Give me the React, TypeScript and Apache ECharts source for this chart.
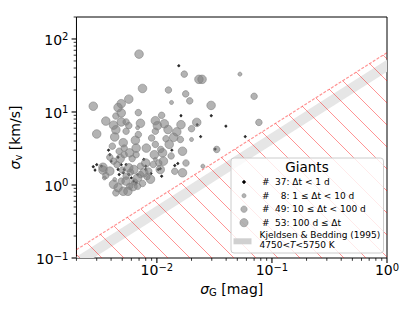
import React, { useEffect, useRef } from 'react';
import * as echarts from 'echarts';

const FONT = 'DejaVu Sans';

// axis ranges
const X_MIN = 0.002;
const X_MAX = 1;
const Y_MIN = 0.1;
const Y_MAX = 200;

const xMajorTicks = [0.01, 0.1, 1];
const yMajorTicks = [0.1, 1, 10, 100];
const xDecades = [0.001, 0.01, 0.1];
const yDecades = [0.1, 1, 10, 100];
const minorMultipliers = [2, 3, 4, 5, 6, 7, 8, 9];

// legend texts
const legendTitle = 'Giants';
const groupLabels = ['37: \u0394t < 1 d', '8: 1 \u2264 \u0394t < 10 d', '49: 10 \u2264 \u0394t < 100 d', '53: 100 d \u2264 \u0394t'];
const bandLabel1 = 'Kjeldsen & Bedding (1995)';
const bandLabel2 = '4750<{t|T}<5750 K';

// sigma_v = coef * sigma_G
const limitCoef = 65;
const kbBandCoef = [35.5, 52];

// Δt < 1 d
const ptsShort: number[][] = [
  [0.0155, 43], [0.0162, 8.9], [0.0297, 8.9], [0.0398, 6.4], [0.0224, 6.7], [0.0586, 4.6],
  [0.024, 4.6], [0.0135, 3.0], [0.0321, 3.1], [0.0143, 1.85], [0.0152, 1.97], [0.0107, 1.67],
  [0.011, 1.32], [0.0028, 1.78], [0.0029, 1.6], [0.003, 1.9], [0.0033, 1.81], [0.004, 2.12],
  [0.0038, 3.0], [0.0039, 2.6], [0.0046, 1.63], [0.0047, 1.39], [0.0051, 1.47], [0.0052, 1.63],
  [0.0054, 1.9], [0.0057, 1.39], [0.006, 1.25], [0.0063, 1.13], [0.0066, 1.07], [0.0068, 1.39],
  [0.008, 1.81], [0.008, 1.63], [0.0089, 1.44], [0.0103, 1.63], [0.0077, 2.24], [0.0046, 2.4],
  [0.0049, 1.9],
];

// 1 ≤ Δt < 10 d
const ptsDays: number[][] = [
  [0.0527, 33], [0.0134, 13.5], [0.0251, 1.81], [0.0043, 1.19], [0.0068, 6.1], [0.0097, 2.24],
  [0.0035, 1.25], [0.02, 4.2],
];

// 10 ≤ Δt < 100 d
const ptsMid: number[][] = [
  [0.0173, 33], [0.0126, 20], [0.0178, 17.7], [0.0193, 14.2], [0.0069, 9.8], [0.0044, 8.8],
  [0.0054, 7.3], [0.0057, 6.5], [0.0054, 5.45], [0.07, 16.4], [0.077, 7.2], [0.016, 4.2],
  [0.0052, 3.2], [0.0097, 3.6], [0.0047, 2.9], [0.0052, 2.6], [0.0069, 4.9], [0.0097, 5.45],
  [0.0108, 3.07], [0.0179, 2.0], [0.0143, 1.54], [0.0331, 3.07], [0.0042, 2.12], [0.0054, 1.32],
  [0.0072, 1.81], [0.0093, 1.91], [0.0072, 1.39], [0.0044, 0.78], [0.0058, 0.96], [0.0049, 1.13],
  [0.0068, 0.96], [0.0085, 1.55], [0.0061, 2.3], [0.0039, 2.4], [0.0045, 1.9], [0.0059, 1.5],
  [0.0064, 1.1], [0.0075, 1.05], [0.005, 1.6], [0.0082, 1.3], [0.0036, 1.35], [0.0104, 2.0],
  [0.012, 4.3], [0.0133, 2.5], [0.02, 5.9], [0.011, 9.0], [0.0041, 3.4], [0.0066, 2.6],
  [0.009, 4.4],
];

// 100 d ≤ Δt
const ptsLong: number[][] = [
  [0.007, 62], [0.0075, 21], [0.0232, 28], [0.0247, 28], [0.0057, 15], [0.0049, 13],
  [0.0046, 11.5], [0.0028, 12], [0.0296, 12.3], [0.0049, 9.7], [0.0036, 7.5], [0.0049, 7.3],
  [0.0072, 7.0], [0.0042, 6.6], [0.0044, 5.7], [0.0097, 7.6], [0.0101, 6.5], [0.0116, 6.9],
  [0.0125, 5.75], [0.0149, 5.35], [0.0162, 6.7], [0.0222, 7.2], [0.003, 5.0], [0.0043, 4.55],
  [0.0051, 3.8], [0.0066, 3.2], [0.0081, 3.2], [0.0095, 2.6], [0.0112, 2.76], [0.0058, 2.76],
  [0.0167, 2.9], [0.0114, 2.12], [0.0167, 1.47], [0.0034, 1.6], [0.0039, 1.55], [0.0057, 1.72],
  [0.0063, 1.63], [0.008, 2.0], [0.0107, 1.63], [0.0068, 1.25], [0.0042, 1.02], [0.0046, 0.92],
  [0.0051, 0.82], [0.0056, 0.82], [0.0054, 1.13], [0.0077, 1.47], [0.0034, 1.75], [0.0065, 4.1],
  [0.014, 4.5], [0.0088, 1.2], [0.0062, 0.95], [0.0048, 2.3], [0.0128, 3.6],
];

const GRAY = 'rgba(128,128,128,0.6)';
const HATCH = 'rgba(255,0,0,0.42)';

type P = number[];

function clipHalf(poly: P[], inside: (p: P) => boolean, inter: (a: P, b: P) => P): P[] {
  const out: P[] = [];
  for (let i = 0; i < poly.length; i++) {
    const cur = poly[i];
    const prev = poly[(i + poly.length - 1) % poly.length];
    const ci = inside(cur);
    const pi = inside(prev);
    if (ci) {
      if (!pi) out.push(inter(prev, cur));
      out.push(cur);
    } else if (pi) out.push(inter(prev, cur));
  }
  return out;
}

function clipRect(poly: P[], L: number, T: number, R: number, B: number): P[] {
  const ix = (x0: number) => (a: P, b: P) => {
    const t = (x0 - a[0]) / (b[0] - a[0]);
    return [x0, a[1] + t * (b[1] - a[1])];
  };
  const iy = (y0: number) => (a: P, b: P) => {
    const t = (y0 - a[1]) / (b[1] - a[1]);
    return [a[0] + t * (b[0] - a[0]), y0];
  };
  let p = clipHalf(poly, (q) => q[0] >= L, ix(L));
  p = clipHalf(p, (q) => q[0] <= R, ix(R));
  p = clipHalf(p, (q) => q[1] >= T, iy(T));
  p = clipHalf(p, (q) => q[1] <= B, iy(B));
  return p;
}

function clipSeg(p0: P, p1: P, poly: P[]): P[] | null {
  if (poly.length < 3) return null;
  let cx = 0, cy = 0;
  poly.forEach((q) => { cx += q[0]; cy += q[1]; });
  cx /= poly.length; cy /= poly.length;
  const d = [p1[0] - p0[0], p1[1] - p0[1]];
  let tE = 0, tL = 1;
  for (let i = 0; i < poly.length; i++) {
    const a = poly[i], b = poly[(i + 1) % poly.length];
    let nx = -(b[1] - a[1]), ny = b[0] - a[0];
    if (Math.abs(nx) + Math.abs(ny) < 1e-9) continue;
    if (nx * (cx - a[0]) + ny * (cy - a[1]) < 0) { nx = -nx; ny = -ny; }
    const num = nx * (p0[0] - a[0]) + ny * (p0[1] - a[1]);
    const den = nx * d[0] + ny * d[1];
    if (Math.abs(den) < 1e-12) { if (num < 0) return null; continue; }
    const t = -num / den;
    if (den > 0) tE = Math.max(tE, t); else tL = Math.min(tL, t);
    if (tE > tL) return null;
  }
  return [[p0[0] + tE * d[0], p0[1] + tE * d[1]], [p0[0] + tL * d[0], p0[1] + tL * d[1]]];
}

const fmtPow = (v: number) => {
  const l = Math.log10(v);
  const e = Math.round(l);
  if (Math.abs(l - e) > 1e-6) return '';
  return `{b|10}{s|${e < 0 ? '\u2212' + -e : e}}`;
};

const tickRich = {
  b: { fontSize: 14, fontFamily: FONT, color: '#000', lineHeight: 14, padding: [2, 0, 0, 0] },
  s: { fontSize: 10, fontFamily: FONT, color: '#000', lineHeight: 10, verticalAlign: 'top' },
};

const nameRich = {
  i: { fontSize: 14, fontFamily: FONT, fontStyle: 'italic', color: '#000', lineHeight: 14, padding: [0, 0, 3, 0] },
  n: { fontSize: 14, fontFamily: FONT, color: '#000', lineHeight: 14, padding: [0, 0, 3, 0] },
  sub: { fontSize: 10, fontFamily: FONT, color: '#000', lineHeight: 10, verticalAlign: 'bottom' },
};

function decorRender(params: any, api: any) {
  const cs = params.coordSys;
  const L = cs.x, T = cs.y, R = cs.x + cs.width, B = cs.y + cs.height;
  const line = (k: number) => [api.coord([X_MIN, k * X_MIN]), api.coord([X_MAX, k * X_MAX])];
  const [t0, t1] = line(kbBandCoef[1]);
  const [b0, b1] = line(kbBandCoef[0]);
  const band = clipRect([t0, t1, b1, b0], L, T, R, B);
  const [la, lb] = line(limitCoef);
  const region = clipRect([la, lb, [lb[0], B + 50], [la[0], B + 50]], L, T, R, B);
  const children: any[] = [];
  children.push({ type: 'polygon', shape: { points: band }, style: { fill: '#e6e6e6', stroke: 'none' } });
  const step = 22;
  const phase = 2;
  for (let c = phase - step * 50; c < phase + step * 30; c += step) {
    const seg = clipSeg([L - 400, L - 400 + c], [R + 400, R + 400 + c], region);
    if (seg && Math.hypot(seg[1][0] - seg[0][0], seg[1][1] - seg[0][1]) > 0.5) {
      children.push({
        type: 'polyline',
        shape: { points: [[seg[0][0], seg[0][1]], [seg[1][0], seg[1][1]]] },
        style: { stroke: HATCH, lineWidth: 1, fill: null },
      });
    }
  }
  children.push({
    type: 'polyline',
    shape: { points: [la, lb] },
    style: { stroke: HATCH, lineWidth: 1.2, lineDash: [3, 1.5], fill: null },
  });
  // axis ticks (major + minor), outward
  const tick = (x1: number, y1: number, x2: number, y2: number, w: number) =>
    children.push({ type: 'line', shape: { x1, y1, x2, y2 }, style: { stroke: '#000', lineWidth: w } });
  xMajorTicks.forEach((v) => { const p = api.coord([v, Y_MIN]); tick(p[0], B, p[0], B + 4.9, 1.1); });
  yMajorTicks.forEach((v) => { const p = api.coord([X_MIN, v]); tick(L, p[1], L - 4.9, p[1], 1.1); });
  xDecades.forEach((d) => minorMultipliers.forEach((m) => {
    const v = d * m;
    if (v < X_MIN * 0.999 || v > X_MAX * 1.001) return;
    const p = api.coord([v, Y_MIN]);
    tick(p[0], B, p[0], B + 2.8, 0.8);
  }));
  yDecades.forEach((d) => minorMultipliers.forEach((m) => {
    const v = d * m;
    if (v < Y_MIN * 0.999 || v > Y_MAX * 1.001) return;
    const p = api.coord([X_MIN, v]);
    tick(L, p[1], L - 2.8, p[1], 0.8);
  }));
  return { type: 'group', children };
}

function legendGraphic() {
  const els: any[] = [];
  els.push({
    type: 'rect', z: 100,
    shape: { x: 231, y: 158, width: 152.5, height: 95, r: 3 },
    style: { fill: 'rgba(255,255,255,0.8)', stroke: '#cccccc', lineWidth: 1 },
  });
  els.push({
    type: 'text', z: 101,
    style: { text: legendTitle, x: 307, y: 167, fontSize: 13.5, fontFamily: FONT, fill: '#000', align: 'center', verticalAlign: 'middle' },
  });
  const rowsY = [182, 195.7, 209.2, 222.7];
  const markers = [
    { r: 1.4, fill: '#000', stroke: '#000' },
    { r: 2.1, fill: GRAY, stroke: GRAY },
    { r: 3.2, fill: GRAY, stroke: GRAY },
    { r: 4.1, fill: GRAY, stroke: GRAY },
  ];
  const textX = [275, 280.7, 275, 275];
  rowsY.forEach((y, i) => {
    els.push({
      type: 'circle', z: 101,
      shape: { cx: 244, cy: y, r: markers[i].r },
      style: { fill: markers[i].fill, stroke: markers[i].stroke, lineWidth: 0.8 },
    });
    els.push({
      type: 'text', z: 101,
      style: { text: '#', x: 262, y, fontSize: 9, fontFamily: FONT, fill: '#000', align: 'left', verticalAlign: 'middle' },
    });
    els.push({
      type: 'text', z: 101,
      style: { text: groupLabels[i], x: textX[i], y, fontSize: 9, fontFamily: FONT, fill: '#000', align: 'left', verticalAlign: 'middle' },
    });
  });
  els.push({
    type: 'rect', z: 101,
    shape: { x: 233.5, y: 238.3, width: 18, height: 6 },
    style: { fill: '#d0d0d0', stroke: 'none' },
  });
  els.push({
    type: 'text', z: 101,
    style: { text: bandLabel1, x: 259.5, y: 235.2, fontSize: 9, fontFamily: FONT, fill: '#000', align: 'left', verticalAlign: 'middle' },
  });
  els.push({
    type: 'text', z: 101,
    style: {
      text: bandLabel2, x: 259.5, y: 244.5, fontSize: 9, fontFamily: FONT, fill: '#000', align: 'left', verticalAlign: 'middle',
      rich: { t: { fontSize: 9, fontFamily: FONT, fontStyle: 'italic', fill: '#000' } },
    },
  });
  return els;
}

export default function App() {
  const ref = useRef<HTMLDivElement>(null);
  useEffect(() => {
    const chart = echarts.init(ref.current!, null, { renderer: 'svg' });
    const scatterBase = { type: 'scatter', symbol: 'circle', z: 3 };
    chart.setOption({
      animation: false,
      backgroundColor: '#fff',
      textStyle: { fontFamily: FONT },
      grid: { left: 70, top: 17, width: 317, height: 241, show: true, borderColor: '#000', borderWidth: 1, backgroundColor: 'transparent' },
      xAxis: {
        type: 'log', logBase: 10, min: X_MIN, max: X_MAX,
        splitLine: { show: false }, axisLine: { show: false }, axisTick: { show: false },
        axisLabel: { formatter: fmtPow, margin: 4, interval: 0, rich: tickRich, color: '#000' },
        name: '{i|\u03c3}{sub|G}{n| [mag]}', nameLocation: 'middle', nameGap: 12,
        nameTextStyle: { rich: nameRich, fontSize: 14, fontFamily: FONT, color: '#000' },
      },
      yAxis: {
        type: 'log', logBase: 10, min: Y_MIN, max: Y_MAX,
        splitLine: { show: false }, axisLine: { show: false }, axisTick: { show: false },
        axisLabel: { formatter: fmtPow, margin: 8, interval: 0, rich: tickRich, color: '#000' },
        name: '{i|\u03c3}{sub|v}{n| [km/s]}', nameLocation: 'middle', nameGap: 33, nameRotate: 90,
        nameTextStyle: { rich: nameRich, fontSize: 14, fontFamily: FONT, color: '#000' },
      },
      series: [
        { type: 'custom', renderItem: decorRender, data: [[X_MIN, Y_MIN]], z: 1, clip: false, silent: true },
        { ...scatterBase, data: ptsShort, symbolSize: 2.2, itemStyle: { color: '#000', borderColor: '#000', borderWidth: 0.8 } },
        { ...scatterBase, data: ptsDays, symbolSize: 4, itemStyle: { color: GRAY, borderColor: GRAY, borderWidth: 1, opacity: 1 } },
        { ...scatterBase, data: ptsMid, symbolSize: 6.5, itemStyle: { color: GRAY, borderColor: GRAY, borderWidth: 1, opacity: 1 } },
        { ...scatterBase, data: ptsLong, symbolSize: 8.5, itemStyle: { color: GRAY, borderColor: GRAY, borderWidth: 1, opacity: 1 } },
      ],
      graphic: legendGraphic(),
    });
    return () => chart.dispose();
  }, []);
  return <div ref={ref} style={{ position: 'fixed', left: 0, top: 0, width: 415, height: 311, background: '#fff' }} />;
}
